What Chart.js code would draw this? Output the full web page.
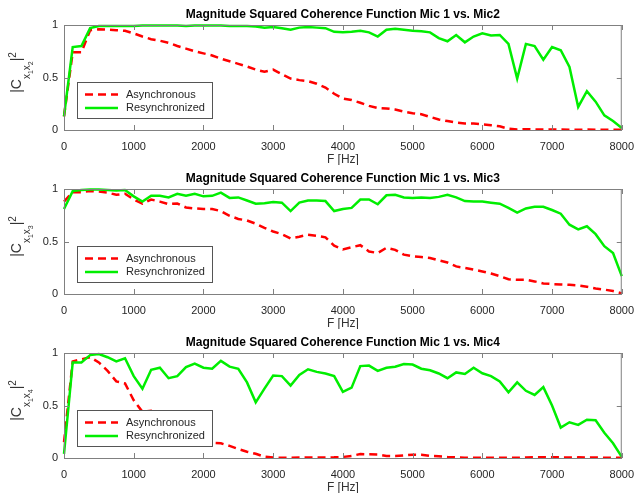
<!DOCTYPE html>
<html>
<head>
<meta charset="utf-8">
<script src="https://cdn.jsdelivr.net/npm/chart.js@4.4.1/dist/chart.umd.min.js"></script>
<style>
  body { margin: 0; background: #fff; }
  .painel { position: absolute; left: 0; width: 644px; height: 165px; }
</style>
</head>
<body>
<div class="painel" style="top:0px"><canvas id="mic2"></canvas></div>
<div class="painel" style="top:164px"><canvas id="mic3"></canvas></div>
<div class="painel" style="top:328px"><canvas id="mic4"></canvas></div>
<script>
// Frequências (Hz) - passo de 125 Hz
const freq = [
  0, 125, 250, 375, 500, 625, 750, 875,
  1000, 1125, 1250, 1375, 1500, 1625, 1750, 1875,
  2000, 2125, 2250, 2375, 2500, 2625, 2750, 2875,
  3000, 3125, 3250, 3375, 3500, 3625, 3750, 3875,
  4000, 4125, 4250, 4375, 4500, 4625, 4750, 4875,
  5000, 5125, 5250, 5375, 5500, 5625, 5750, 5875,
  6000, 6125, 6250, 6375, 6500, 6625, 6750, 6875,
  7000, 7125, 7250, 7375, 7500, 7625, 7750, 7875,
  8000
];

// Mic 1 vs. Mic2
const assincMic2 = [
  0.13, 0.74, 0.74, 0.95, 0.96, 0.955, 0.95, 0.945,
  0.92, 0.89, 0.865, 0.85, 0.83, 0.80, 0.775, 0.75,
  0.73, 0.71, 0.68, 0.655, 0.63, 0.605, 0.575, 0.555,
  0.575, 0.53, 0.49, 0.475, 0.465, 0.44, 0.405, 0.345,
  0.30, 0.285, 0.26, 0.23, 0.21, 0.205, 0.195, 0.175,
  0.16, 0.15, 0.125, 0.10, 0.085, 0.07, 0.063, 0.063,
  0.055, 0.045, 0.035, 0.012, 0.005, 0.008, 0.006, 0.004,
  0.005, 0.004, 0.003, 0.003, 0.004, 0.003, 0.003, 0.002,
  0.002
];
const ressincMic2 = [
  0.13, 0.79, 0.80, 0.97, 0.99, 0.99, 0.99, 0.99,
  0.99, 0.995, 0.995, 0.995, 0.995, 0.995, 0.99, 0.995,
  0.995, 0.995, 0.995, 0.99, 0.99, 0.99, 0.985, 0.975,
  0.98, 0.97, 0.955, 0.975, 0.98, 0.975, 0.97, 0.935,
  0.93, 0.935, 0.945, 0.93, 0.89, 0.955, 0.965, 0.955,
  0.945, 0.94, 0.93, 0.875, 0.845, 0.905, 0.835, 0.89,
  0.92, 0.90, 0.905, 0.82, 0.49, 0.82, 0.80, 0.67,
  0.79, 0.76, 0.60, 0.22, 0.37, 0.27, 0.14, 0.085,
  0.02
];

// Mic 1 vs. Mic3
const assincMic3 = [
  0.88, 0.97, 0.97, 0.98, 0.975, 0.965, 0.945, 0.955,
  0.90, 0.86, 0.90, 0.88, 0.856, 0.862, 0.824, 0.815,
  0.81, 0.81, 0.79, 0.745, 0.715, 0.70, 0.67, 0.63,
  0.595, 0.57, 0.53, 0.545, 0.565, 0.555, 0.54, 0.46,
  0.425, 0.445, 0.465, 0.405, 0.39, 0.44, 0.42, 0.375,
  0.36, 0.352, 0.343, 0.32, 0.30, 0.263, 0.248, 0.232,
  0.215, 0.195, 0.17, 0.14, 0.135, 0.135, 0.12, 0.10,
  0.095, 0.09, 0.087, 0.082, 0.07, 0.053, 0.042, 0.028,
  0.006
];
const ressincMic3 = [
  0.81, 0.98, 0.99, 0.995, 0.995, 0.99, 0.985, 0.99,
  0.93, 0.88, 0.936, 0.936, 0.92, 0.955, 0.935, 0.955,
  0.93, 0.935, 0.965, 0.915, 0.92, 0.89, 0.86, 0.865,
  0.875, 0.87, 0.79, 0.87, 0.89, 0.89, 0.885, 0.79,
  0.81, 0.82, 0.90, 0.90, 0.855, 0.94, 0.945, 0.92,
  0.915, 0.92, 0.915, 0.925, 0.945, 0.92, 0.885, 0.88,
  0.88, 0.87, 0.86, 0.82, 0.776, 0.815, 0.83, 0.83,
  0.80, 0.765, 0.66, 0.615, 0.645, 0.57, 0.455, 0.39,
  0.17
];

// Mic 1 vs. Mic4
const assincMic4 = [
  0.15, 0.92, 0.94, 0.96, 0.91, 0.83, 0.73, 0.71,
  0.55, 0.44, 0.45, 0.37, 0.32, 0.27, 0.22, 0.18,
  0.155, 0.145, 0.14, 0.115, 0.085, 0.06, 0.04, 0.012,
  0.004, 0.003, 0.003, 0.004, 0.004, 0.005, 0.004, 0.006,
  0.01, 0.02, 0.038, 0.035, 0.034, 0.02, 0.018, 0.024,
  0.032, 0.03, 0.02, 0.016, 0.01, 0.006, 0.003, 0.002,
  0.002, 0.003, 0.002, 0.003, 0.002, 0.005, 0.008, 0.008,
  0.006, 0.006, 0.005, 0.006, 0.004, 0.005, 0.003, 0.003,
  0.002
];
const ressincMic4 = [
  0.04, 0.91, 0.91, 0.98, 0.99, 0.96, 0.92, 0.95,
  0.78, 0.66, 0.84, 0.86, 0.76, 0.78, 0.865, 0.90,
  0.86, 0.85, 0.925, 0.87, 0.85, 0.72, 0.53, 0.66,
  0.785, 0.78, 0.69, 0.79, 0.845, 0.82, 0.805, 0.78,
  0.63, 0.67, 0.875, 0.88, 0.83, 0.86, 0.87, 0.895,
  0.89, 0.85, 0.835, 0.805, 0.76, 0.815, 0.80, 0.86,
  0.807, 0.78, 0.73, 0.625, 0.72, 0.64, 0.60, 0.675,
  0.50, 0.29, 0.34, 0.315, 0.365, 0.36, 0.24, 0.14,
  0.01
];

const fonte = '"Liberation Sans", Arial, Helvetica, sans-serif';
Chart.defaults.font.family = fonte;

// Rótulo do eixo y: |C_{x1 xN}|^2, rodado 90 graus
function rotuloY(ctx, cx, cy, sub) {
  const partes = [
    { t: '|C', f: 14, dy: 0 },
    { t: 'x', f: 10, dy: 9 }, { t: '1', f: 7, dy: 12 },
    { t: 'x', f: 10, dy: 9 }, { t: sub, f: 7, dy: 12 },
    { t: '|', f: 14, dy: 0 }, { t: '2', f: 10, dy: -5 }
  ];
  let largura = 0;
  partes.forEach(p => { ctx.font = p.f + 'px ' + fonte; p.w = ctx.measureText(p.t).width; largura += p.w; });
  ctx.save();
  ctx.translate(cx, cy);
  ctx.rotate(-Math.PI / 2);
  ctx.fillStyle = '#333';
  ctx.textBaseline = 'alphabetic';
  ctx.textAlign = 'left';
  let pos = -largura / 2;
  partes.forEach(p => {
    ctx.font = p.f + 'px ' + fonte;
    ctx.fillText(p.t, pos, p.dy);
    pos += p.w;
  });
  ctx.restore();
}

// Caixa, ticks para dentro, título, rótulos e legenda no estilo MATLAB
const eixoMatlab = {
  id: 'eixoMatlab',
  afterDraw(chart, args, opts) {
    const ctx = chart.ctx;
    const a = chart.chartArea;
    const sx = chart.scales.x, sy = chart.scales.y;
    ctx.save();

    // caixa
    ctx.strokeStyle = '#808080';
    ctx.lineWidth = 1;
    ctx.strokeRect(a.left + 0.5, a.top + 0.5, a.right - a.left - 1, a.bottom - a.top);

    // ticks
    ctx.beginPath();
    sx.ticks.forEach(t => {
      const px = Math.round(sx.getPixelForValue(t.value)) + 0.5;
      ctx.moveTo(px, a.bottom); ctx.lineTo(px, a.bottom - 5);
      ctx.moveTo(px, a.top); ctx.lineTo(px, a.top + 5);
    });
    sy.ticks.forEach(t => {
      const py = Math.round(sy.getPixelForValue(t.value)) + 0.5;
      ctx.moveTo(a.left, py); ctx.lineTo(a.left + 5, py);
      ctx.moveTo(a.right, py); ctx.lineTo(a.right - 5, py);
    });
    ctx.stroke();

    // título
    ctx.fillStyle = '#000';
    ctx.font = 'bold 12px ' + fonte;
    ctx.textAlign = 'center';
    ctx.textBaseline = 'alphabetic';
    ctx.fillText(opts.titulo, (a.left + a.right) / 2, a.top - 7);

    // eixo x
    ctx.fillStyle = '#333';
    ctx.font = '12px ' + fonte;
    ctx.textBaseline = 'middle';
    ctx.fillText('F [Hz]', (a.left + a.right) / 2, a.bottom + 30);

    // eixo y
    rotuloY(ctx, 21, (a.top + a.bottom) / 2 - 5, opts.sub);

    // legenda
    const lx = a.left + 13, lw = 135, lh = 36;
    const ly = a.bottom - 12 - lh;
    ctx.fillStyle = '#fff';
    ctx.fillRect(lx, ly, lw, lh);
    ctx.strokeStyle = '#555';
    ctx.strokeRect(lx + 0.5, ly + 0.5, lw, lh);
    ctx.font = '11px ' + fonte;
    ctx.textAlign = 'left';
    chart.data.datasets.forEach((ds, i) => {
      const y = ly + 12.5 + i * 13.5;
      ctx.beginPath();
      ctx.strokeStyle = ds.borderColor;
      ctx.lineWidth = ds.borderWidth;
      ctx.setLineDash(ds.borderDash || []);
      ctx.moveTo(lx + 8, y);
      ctx.lineTo(lx + 41, y);
      ctx.stroke();
      ctx.setLineDash([]);
      ctx.fillStyle = '#262626';
      ctx.fillText(ds.label, lx + 49, y);
    });
    ctx.restore();
  }
};

function pontos(valores) {
  return freq.map((f, i) => ({ x: f, y: valores[i] }));
}

function criarPainel(id, titulo, sub, assinc, ressinc) {
  const corTicks = '#262626';
  return new Chart(document.getElementById(id), {
    type: 'line',
    data: {
      datasets: [
        { label: 'Asynchronous', data: pontos(assinc), borderColor: '#ff0000', borderDash: [8, 5],
          borderWidth: 2.5, pointRadius: 0, tension: 0, order: 2, clip: false },
        { label: 'Resynchronized', data: pontos(ressinc), borderColor: '#00ee00',
          borderWidth: 2.5, pointRadius: 0, tension: 0, order: 1, clip: false }
      ]
    },
    options: {
      animation: false,
      responsive: true,
      maintainAspectRatio: false,
      layout: { padding: { top: 25, right: 15, left: 0, bottom: 0 } },
      plugins: {
        legend: { display: false },
        tooltip: { enabled: false },
        eixoMatlab: { titulo: titulo, sub: sub }
      },
      scales: {
        x: {
          type: 'linear', min: 0, max: 8000,
          grid: { display: false, drawTicks: false },
          border: { display: false },
          ticks: { stepSize: 1000, padding: 10, maxRotation: 0, autoSkip: false, color: corTicks,
                   font: { size: 11 }, callback: v => String(v) },
          afterFit(s) { s.height = 35; }
        },
        y: {
          min: 0, max: 1,
          grid: { display: false, drawTicks: false },
          border: { display: false },
          ticks: { stepSize: 0.5, padding: 6, color: corTicks, font: { size: 11 },
                   callback: v => String(v) },
          afterFit(s) { s.width = 64; }
        }
      }
    },
    plugins: [eixoMatlab]
  });
}

criarPainel('mic2', 'Magnitude Squared Coherence Function Mic 1 vs. Mic2', '2', assincMic2, ressincMic2);
criarPainel('mic3', 'Magnitude Squared Coherence Function Mic 1 vs. Mic3', '3', assincMic3, ressincMic3);
criarPainel('mic4', 'Magnitude Squared Coherence Function Mic 1 vs. Mic4', '4', assincMic4, ressincMic4);
</script>
</body>
</html>
